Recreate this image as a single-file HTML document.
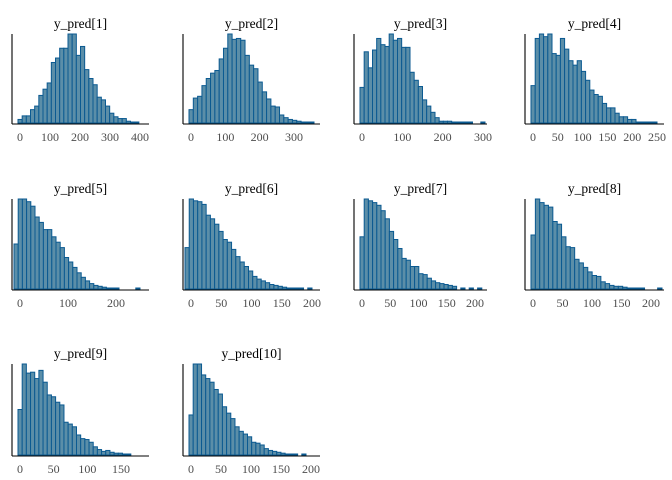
<!DOCTYPE html><html><head><style>body{margin:0;background:#fff}svg{display:block}text{font-family:"Liberation Serif",serif;}</style></head><body>
<svg id="s" width="672" height="480" xmlns="http://www.w3.org/2000/svg"></svg>
<script>
const P=[
{t:"y_pred[1]",L:12,R:149,B:123,T:34,a:20,b:120/400,ticks:[0,100,200,300,400],x0:18,x1:143,h:[.04,.08,.08,.15,.19,.31,.38,.45,.68,.73,.84,.84,1,1,.76,.86,.6,.5,.43,.29,.26,.19,.11,.07,.05,.05,.02,.01,.01,0]},
{t:"y_pred[2]",L:183,R:320,B:123,T:34,a:191,b:103/300,ticks:[0,100,200,300],x0:189,x1:314,h:[.15,.28,.3,.42,.5,.56,.59,.72,.84,1,.94,.95,.93,.76,.65,.61,.46,.35,.27,.19,.18,.09,.06,.04,.03,.02,.01,.01,.01]},
{t:"y_pred[3]",L:354,R:487,B:123,T:34,a:362,b:121/300,ticks:[0,100,200,300],x0:360,x1:485,h:[.4,.8,.62,.82,.95,.88,.86,1,.93,.95,.85,.85,.57,.48,.41,.26,.19,.12,.06,.02,.02,.02,.01,.01,.01,.01,.01,0,0,.005]},
{t:"y_pred[4]",L:525,R:664,B:123,T:34,a:533,b:124/250,ticks:[0,50,100,150,200,250],x0:531,x1:657,h:[.42,.95,1,.97,1,.78,.76,.95,.83,.7,.65,.7,.58,.48,.37,.32,.3,.22,.17,.17,.11,.07,.07,.04,.04,.01,.01,.01,.01,.01]},
{t:"y_pred[5]",L:12,R:149,B:289,T:199,a:20,b:96/200,ticks:[0,100,200],x0:14,x1:140,h:[.5,1,1,.97,.92,.8,.74,.66,.66,.58,.52,.46,.35,.3,.24,.18,.13,.09,.06,.04,.03,.02,.01,.01,.01,0,0,0,0,.01]},
{t:"y_pred[6]",L:183,R:320,B:289,T:199,a:191,b:121/200,ticks:[0,50,100,150,200],x0:185,x1:312,h:[.46,1,.98,.97,.94,.82,.78,.72,.64,.55,.52,.44,.36,.3,.25,.2,.14,.11,.09,.07,.05,.04,.03,.02,.01,.01,.01,.01,0,.01]},
{t:"y_pred[7]",L:354,R:487,B:289,T:199,a:362,b:113/200,ticks:[0,50,100,150,200],x0:360,x1:486,h:[.58,1,.98,.96,.93,.87,.78,.64,.55,.45,.34,.32,.25,.25,.17,.16,.12,.09,.07,.06,.05,.04,.03,0,.01,0,.01,0,.01,0]},
{t:"y_pred[8]",L:525,R:664,B:289,T:199,a:533,b:118/200,ticks:[0,50,100,150,200],x0:531,x1:662,h:[.6,1,.96,.93,.91,.75,.72,.58,.47,.46,.33,.29,.24,.19,.15,.14,.08,.06,.04,.03,.03,.02,.01,.01,.01,.01,0,0,0,.01]},
{t:"y_pred[9]",L:12,R:149,B:455,T:364,a:20,b:101/150,ticks:[0,50,100,150],x0:18,x1:135,h:[.5,1,.9,.91,.84,.93,.8,.66,.64,.58,.55,.36,.34,.31,.22,.18,.17,.14,.09,.06,.04,.05,.03,.02,.02,.01,.01,0]},
{t:"y_pred[10]",L:183,R:320,B:455,T:364,a:191,b:120/200,ticks:[0,50,100,150,200],x0:189,x1:306,h:[.44,1,1,.88,.84,.8,.72,.67,.53,.46,.4,.31,.26,.23,.2,.14,.13,.11,.07,.05,.04,.03,.02,.01,.01,.01,0,.01]}
];
let o="";
for(const p of P){
 const n=p.h.length,w=(p.x1-p.x0)/n,H=p.B-p.T;
 p.h.forEach((v,i)=>{if(v<=0)return;const hh=Math.max(v*H,1);o+=`<rect x="${(p.x0+i*w).toFixed(2)}" y="${(p.B-hh).toFixed(2)}" width="${w.toFixed(2)}" height="${hh.toFixed(2)}" fill="#5b8ea8" stroke="#0b5a91" stroke-width="1"/>`;});
 o+=`<line x1="${p.L}" y1="${p.T}" x2="${p.L}" y2="${p.B+1}" stroke="#000" stroke-width="1.1"/>`;
 o+=`<line x1="${p.L}" y1="${p.B+1}" x2="${p.R}" y2="${p.B+1}" stroke="#000" stroke-width="1.1"/>`;
 for(const t of p.ticks){const x=p.a+p.b*t;o+=`<text x="${x}" y="${p.B+18}" font-size="12" fill="#4d4d4d" text-anchor="middle">${t}</text>`;}
 o+=`<text x="${(p.L+p.R)/2}" y="${p.T-6}" font-size="13.5" fill="#000" text-anchor="middle">${p.t}</text>`;
}
document.getElementById("s").innerHTML=o;
</script></body></html>
